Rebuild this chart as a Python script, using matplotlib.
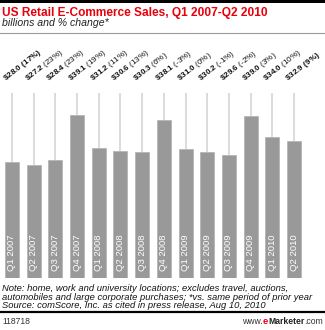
import numpy as np
import matplotlib.pyplot as plt
from matplotlib.lines import Line2D
from matplotlib.patches import Rectangle
import matplotlib.transforms as mtransforms

plt.rcParams['font.family'] = ['Liberation Sans', 'DejaVu Sans']
plt.rcParams['mathtext.fontset'] = 'custom'
plt.rcParams['mathtext.rm'] = 'Liberation Sans'
plt.rcParams['mathtext.bf'] = 'Liberation Sans:bold'

quarters = ["Q1 2007", "Q2 2007", "Q3 2007", "Q4 2007",
            "Q1 2008", "Q2 2008", "Q3 2008", "Q4 2008",
            "Q1 2009", "Q2 2009", "Q3 2009", "Q4 2009",
            "Q1 2010", "Q2 2010"]
sales = [28.0, 27.2, 28.4, 39.1, 31.2, 30.6, 30.3, 38.1, 31.0, 30.2, 29.6, 39.0, 34.0, 32.9]
change = [17, 23, 23, 19, 11, 13, 6, -3, 0, -1, -2, 3, 10, 9]

W, H = 325, 330
fig = plt.figure(figsize=(W / 100, H / 100), dpi=100)


def fy(py):
    return 1 - py / H


# axes: bars from x=1 to ~305 px, baseline at y=278, top at y=93
ax = fig.add_axes([1 / W, fy(278), 304 / W, (278 - 93) / H])
x = np.arange(len(quarters))
ymax = 44.5
ax.set_xlim(-0.5, len(quarters) - 0.5)
ax.set_ylim(0, ymax)
ax.axis('off')

ax.vlines(x, sales, ymax, color='#d9d9d9', lw=1.3, zorder=1)
ax.bar(x, sales, width=0.64, color='#999999', edgecolor='#b0b0b0', lw=0.5, zorder=2)

for i, q in enumerate(quarters):
    ax.text(i, 1.6, q, rotation=90, ha='center', va='bottom', color='white',
            fontsize=6.8, zorder=3)

trans = mtransforms.blended_transform_factory(ax.transData, ax.transAxes)
for i, (s, c) in enumerate(zip(sales, change)):
    if i == 0 or i == len(sales) - 1:
        lab = r"$\mathbf{\$%.1f\ (%d\%%)}$" % (s, c)
    else:
        lab = r"$\mathbf{\$%.1f}$ (%d%%)" % (s, c)
    ax.text(i - 0.3, 1.065, lab, transform=trans, rotation=38, rotation_mode='anchor',
            ha='left', va='baseline', fontsize=5.9, color='#111111', clip_on=False)

# header
fig.add_artist(Rectangle((0, fy(3)), 1, 3 / H, transform=fig.transFigure,
                         color='black', lw=0))
fig.text(2 / W, fy(16), "US Retail E-Commerce Sales, Q1 2007-Q2 2010",
         color='#e8000b', fontsize=8.6, fontweight='bold', va='baseline')
fig.text(2 / W, fy(26.5), "billions and % change*", fontsize=7.6, style='italic',
         va='baseline', color='#222222')
fig.add_artist(Line2D([0, 1], [fy(33), fy(33)], color='#9a9a9a', lw=0.8))

# footer
notes = ["Note: home, work and university locations; excludes travel, auctions,",
         "automobiles and large corporate purchases; *vs. same period of prior year",
         "Source: comScore, Inc. as cited in press release, Aug 10, 2010"]
for k, line in enumerate(notes):
    fig.text(2 / W, fy(291 + k * 8.7), line, fontsize=6.75, style='italic', va='baseline',
             color='#111111')
fig.add_artist(Line2D([0, 1], [fy(312), fy(312)], color='black', lw=1.6))

base = fig.transFigure.transform((0, fy(323.5)))[1]
fig.text(2 / W, fy(323.5), "118718", fontsize=6.2, va='baseline', color='#333333')

# www.eMarketer.com, built right to left
pieces = [(".com", 6.2, 'normal', '#333333'),
          ("Marketer", 6.2, 'bold', '#222222'),
          ("e", 6.8, 'bold', '#e8000b'),
          ("www.", 6.2, 'normal', '#333333')]
xr = fig.transFigure.transform((323 / W, 0))[0]
r = fig.canvas.get_renderer()
for txt, fs, fw, col in pieces:
    t = fig.text(xr, base, txt, fontsize=fs, fontweight=fw, color=col, ha='right',
                 va='baseline', transform=mtransforms.IdentityTransform())
    xr = t.get_window_extent(r).x0

fig.savefig("out.png", dpi=100)
